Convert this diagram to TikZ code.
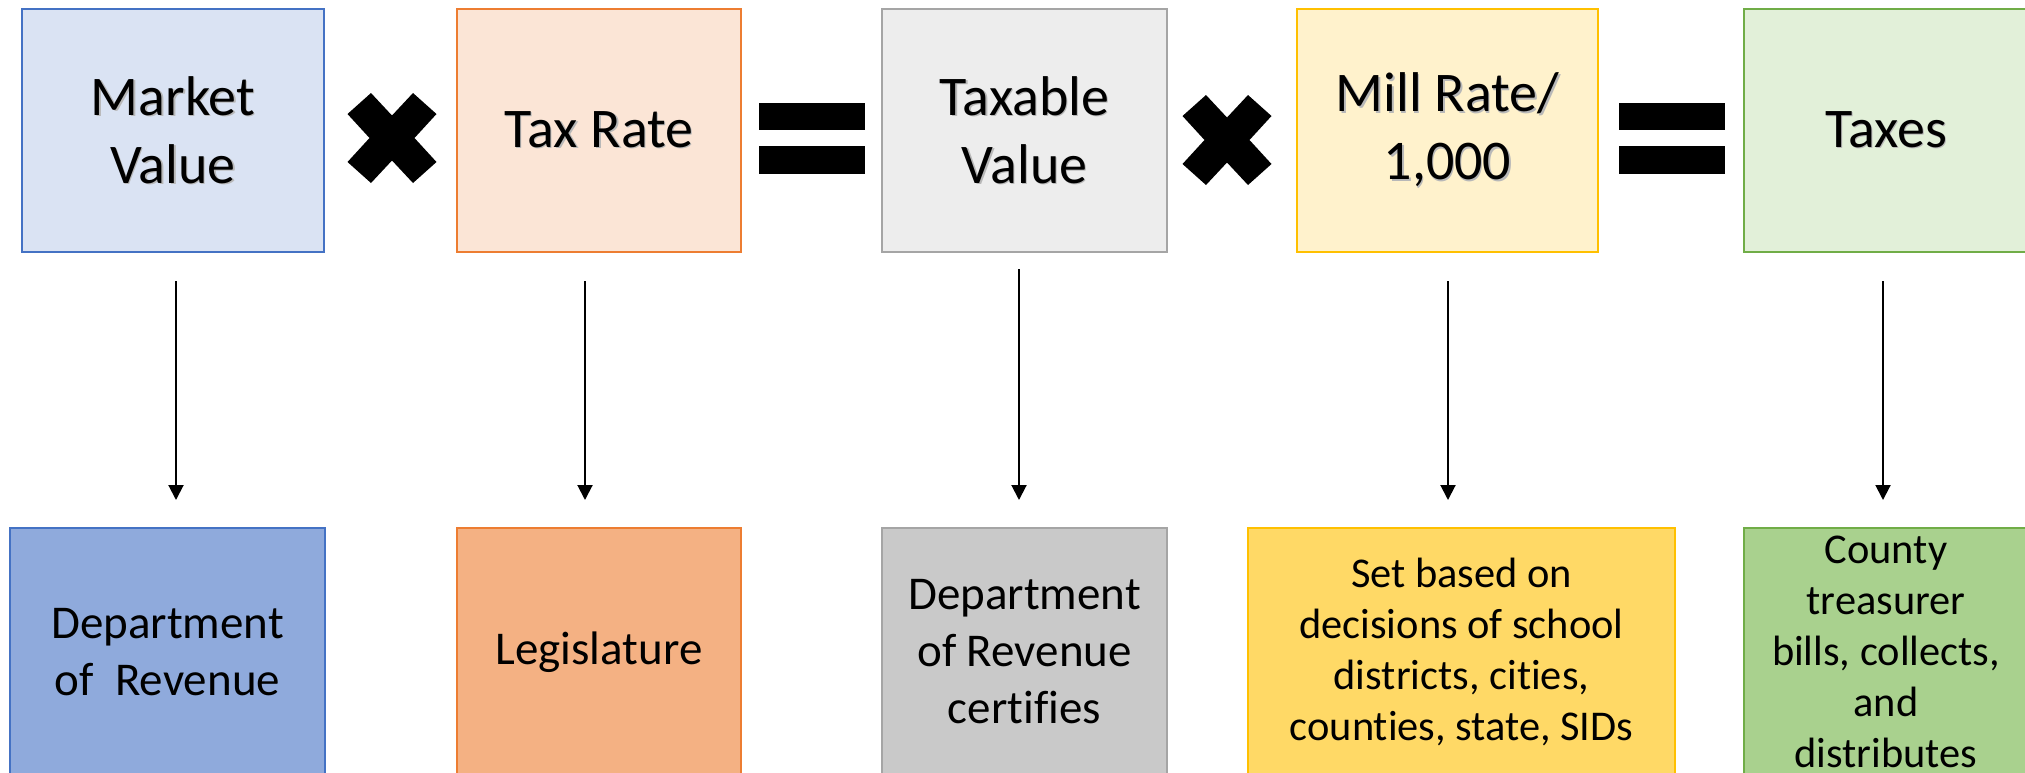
\documentclass[tikz,border=0pt]{standalone}
\usepackage{fontspec}
\setmainfont{Carlito}[Ligatures=NoCommon]
\usetikzlibrary{arrows.meta}

% Office palette
\definecolor{blueline}{HTML}{4472C4}
\definecolor{orangeline}{HTML}{ED7D31}
\definecolor{grayline}{HTML}{A5A5A5}
\definecolor{goldline}{HTML}{FFC000}
\definecolor{greenline}{HTML}{70AD47}
\definecolor{bluelight}{HTML}{DAE3F3}
\definecolor{orangelight}{HTML}{FBE5D6}
\definecolor{graylight}{HTML}{EDEDED}
\definecolor{goldlight}{HTML}{FFF2CC}
\definecolor{greenlight}{HTML}{E2F0D9}
\definecolor{bluemid}{HTML}{8FAADC}
\definecolor{orangemid}{HTML}{F4B183}
\definecolor{graymid}{HTML}{C9C9C9}
\definecolor{goldmid}{HTML}{FFD966}
\definecolor{greenmid}{HTML}{A9D18E}

% text with a soft drop shadow
\newcommand{\sh}[1]{\rlap{\kern0.7pt\raisebox{-0.7pt}{\color{black!28}#1}}#1}

\tikzset{
  box/.style={draw, line width=0.6pt, inner sep=0pt, align=center, text=black},
  topbox/.style={box, minimum height=121.5pt, font=\fontsize{28}{34}\selectfont},
  botbox/.style={box, minimum height=124pt, font=\fontsize{23.5}{28.5}\selectfont},
  smalltext/.style={font=\fontsize{21.2}{25.5}\selectfont},
  flow/.style={line width=1pt, -{Triangle[width=7.5pt,length=7.5pt]}},
  timesmark/.pic={
    \fill (0,-22.5) -- (21,-45) -- (44.5,-24) -- (22.5,0) -- (44.5,24) -- (21,45)
      -- (0,22.5) -- (-21,45) -- (-44.5,24) -- (-22.5,0) -- (-44.5,-24) -- (-21,-45) -- cycle;
  },
  equalsmark/.pic={
    \fill (-53,-35.5) rectangle (53,-8.5);
    \fill (-53,7.5) rectangle (53,35.5);
  }
}

\begin{document}
\begin{tikzpicture}[x=0.5pt, y=-0.5pt]
\useasboundingbox (0,0) rectangle (2025,772);
\clip (0,0) rectangle (2025,772);

% formula row
\node[topbox, fill=bluelight, draw=blueline, minimum width=151pt] (mv) at (173,130.5) {\sh{Market}\\\sh{Value}};
\node[topbox, fill=orangelight, draw=orangeline, minimum width=142pt] (tr) at (599,130.5) {\sh{Tax Rate}};
\node[topbox, fill=graylight, draw=grayline, minimum width=142.5pt] (tv) at (1024.5,130.5) {\sh{Taxable}\\\sh{Value}};
\node[topbox, fill=goldlight, draw=goldline, minimum width=150.5pt] (mr) at (1447.5,130.5) {\sh{Mill Rate/}\\\sh{1,000}};
\node[topbox, fill=greenlight, draw=greenline, minimum width=142pt] (tx) at (1886,130.5) {\sh{Taxes}};

\pic at (392,138) {timesmark};
\pic at (812,138.5) {equalsmark};
\pic at (1227,140) {timesmark};
\pic at (1672,138.5) {equalsmark};

% who is responsible
\node[botbox, fill=bluemid, draw=blueline, minimum width=157.5pt] (dr) at (167.5,652) {Department\\of\ \ Revenue};
\node[botbox, fill=orangemid, draw=orangeline, minimum width=142pt] (lg) at (599,652) {Legislature};
\node[botbox, fill=graymid, draw=grayline, minimum width=142.5pt] (ct) at (1024.5,652) {Department\\of Revenue\\certifies};
\node[botbox, smalltext, fill=goldmid, draw=goldline, minimum width=213.5pt] (sb) at (1461.5,652) {Set based on\\decisions of school\\districts, cities,\\counties, state, SIDs};
\node[botbox, smalltext, fill=greenmid, draw=greenline, minimum width=142pt] (cb) at (1886,652) {County\\treasurer\\bills, collects,\\and\\distributes};

% arrows
\coordinate (a1s) at (176,281);  \coordinate (a1e) at (176,500);
\coordinate (a2s) at (585,281);  \coordinate (a2e) at (585,500);
\coordinate (a3s) at (1019,269); \coordinate (a3e) at (1019,500);
\coordinate (a4s) at (1448,281); \coordinate (a4e) at (1448,500);
\coordinate (a5s) at (1883,281); \coordinate (a5e) at (1883,500);
\foreach \i in {1,...,5} \draw[flow] (a\i s) -- (a\i e);
\end{tikzpicture}
\end{document}
